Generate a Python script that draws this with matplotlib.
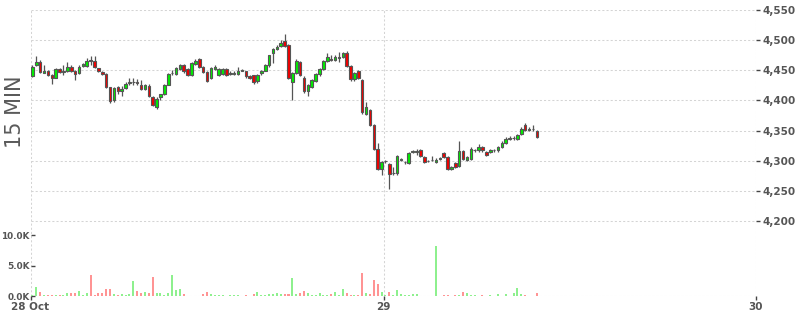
import numpy as np
import pandas as pd
import matplotlib
matplotlib.use('Agg')
import matplotlib.pyplot as plt
import matplotlib.dates as mdates
from matplotlib.ticker import FuncFormatter

# 15 minute candles, first bar opens 28 Oct 01:15
first_bar = '2021-10-28 01:15'

opens = [4440, 4458, 4464, 4446, 4449, 4442, 4438, 4452, 4447, 4448,
         4456, 4448, 4445, 4457, 4457, 4467, 4466, 4453, 4447, 4444,
         4422, 4401, 4422, 4415, 4421, 4429, 4430, 4430, 4426, 4419,
         4424, 4406, 4389, 4406, 4410, 4426, 4445, 4444, 4452, 4458,
         4452, 4442, 4460, 4468, 4455, 4447, 4438, 4452, 4443, 4444,
         4452, 4444, 4444, 4444, 4449, 4448, 4440, 4442, 4432, 4445,
         4449, 4459, 4479, 4485, 4491, 4498, 4492, 4431, 4446, 4464,
         4438, 4415, 4422, 4433, 4444, 4452, 4465, 4469, 4467, 4471,
         4472, 4479, 4457, 4435, 4448, 4434, 4378, 4384, 4359, 4320,
         4286, 4299, 4295, 4279, 4279, 4302, 4298, 4297, 4315, 4315,
         4317, 4306, 4300, 4301, 4298, 4303, 4312, 4306, 4287, 4296,
         4292, 4316, 4301, 4303, 4317, 4317, 4323, 4314, 4314, 4317,
         4317, 4323, 4330, 4336, 4337, 4336, 4344, 4360, 4351, 4352,
         4349]

highs = [4459, 4473, 4467, 4458, 4451, 4444, 4454, 4454, 4458, 4464,
         4458, 4450, 4459, 4462, 4470, 4473, 4473, 4454, 4448, 4446,
         4423, 4422, 4424, 4424, 4430, 4437, 4438, 4436, 4434, 4428,
         4427, 4408, 4405, 4411, 4427, 4445, 4450, 4455, 4460, 4460,
         4453, 4463, 4468, 4471, 4457, 4448, 4455, 4458, 4454, 4454,
         4454, 4448, 4449, 4455, 4452, 4449, 4442, 4443, 4444, 4450,
         4460, 4476, 4487, 4492, 4501, 4510, 4494, 4447, 4468, 4466,
         4440, 4427, 4436, 4446, 4454, 4467, 4478, 4476, 4476, 4480,
         4481, 4482, 4459, 4447, 4450, 4435, 4397, 4386, 4361, 4330,
         4300, 4301, 4297, 4290, 4309, 4305, 4300, 4314, 4318, 4320,
         4320, 4308, 4302, 4307, 4304, 4306, 4315, 4308, 4292, 4298,
         4332, 4318, 4308, 4322, 4320, 4328, 4325, 4316, 4320, 4320,
         4325, 4332, 4340, 4341, 4341, 4345, 4356, 4362, 4356, 4359,
         4351]

lows = [4439, 4457, 4445, 4445, 4440, 4428, 4437, 4445, 4443, 4447,
        4447, 4434, 4444, 4456, 4455, 4458, 4454, 4447, 4442, 4421,
        4396, 4398, 4410, 4407, 4419, 4426, 4425, 4426, 4418, 4417,
        4406, 4390, 4386, 4401, 4409, 4425, 4443, 4442, 4450, 4446,
        4440, 4441, 4459, 4454, 4445, 4431, 4436, 4450, 4441, 4442,
        4440, 4442, 4443, 4443, 4448, 4438, 4436, 4428, 4429, 4443,
        4448, 4455, 4462, 4483, 4489, 4489, 4436, 4400, 4444, 4440,
        4413, 4407, 4420, 4431, 4440, 4450, 4463, 4465, 4465, 4464,
        4470, 4455, 4433, 4433, 4436, 4378, 4376, 4357, 4318, 4284,
        4276, 4297, 4253, 4277, 4277, 4300, 4295, 4294, 4313, 4309,
        4306, 4296, 4298, 4299, 4296, 4301, 4304, 4285, 4285, 4288,
        4290, 4301, 4299, 4301, 4314, 4315, 4315, 4307, 4312, 4315,
        4315, 4321, 4328, 4334, 4334, 4334, 4342, 4349, 4349, 4349,
        4338]

closes = [4456, 4464, 4447, 4448, 4442, 4438, 4452, 4447, 4448, 4456,
          4448, 4444, 4456, 4460, 4466, 4466, 4455, 4448, 4444, 4422,
          4399, 4421, 4415, 4419, 4428, 4430, 4430, 4429, 4419, 4426,
          4408, 4393, 4403, 4410, 4426, 4444, 4446, 4453, 4458, 4448,
          4442, 4462, 4466, 4455, 4447, 4433, 4453, 4455, 4452, 4452,
          4442, 4446, 4446, 4449, 4450, 4440, 4438, 4431, 4443, 4448,
          4458, 4475, 4485, 4488, 4496, 4491, 4438, 4445, 4466, 4442,
          4415, 4425, 4434, 4444, 4452, 4465, 4472, 4467, 4472, 4472,
          4479, 4457, 4435, 4445, 4438, 4380, 4389, 4359, 4320, 4286,
          4298, 4299, 4278, 4280, 4307, 4303, 4298, 4312, 4316, 4316,
          4308, 4298, 4300, 4302, 4302, 4304, 4306, 4287, 4290, 4290,
          4316, 4303, 4306, 4320, 4317, 4322, 4317, 4309, 4318, 4317,
          4323, 4330, 4336, 4337, 4337, 4343, 4353, 4351, 4353, 4352,
          4340]

volumes = [200, 1540, 660, 220, 220, 220, 220, 100, 220, 440,
           550, 550, 770, 220, 550, 3520, 220, 550, 550, 1210,
           1100, 330, 220, 330, 220, 330, 2530, 880, 550, 660,
           550, 3190, 550, 550, 220, 550, 3410, 990, 1210, 330,
           50, 60, 50, 60, 330, 660, 330, 100, 220, 110,
           60, 150, 150, 150, 60, 110, 80, 330, 660, 110,
           110, 330, 330, 440, 330, 330, 330, 2970, 330, 550,
           880, 550, 110, 110, 550, 110, 110, 330, 660, 110,
           1210, 550, 220, 110, 110, 3850, 550, 330, 2640, 1980,
           660, 220, 660, 220, 990, 330, 220, 110, 330, 330,
           60, 60, 60, 60, 8140, 60, 110, 110, 40, 110,
           110, 660, 440, 110, 110, 60, 110, 60, 110, 60,
           330, 60, 330, 60, 550, 1320, 330, 110, 60, 60,
           440]

day_ticks = ['2021-10-29', '2021-10-30']
day_labels = ['28 Oct', '29', '30']
price_ticks = [4200, 4250, 4300, 4350, 4400, 4450, 4500, 4550]
volume_ticks = [0, 5000, 10000]


def create_candle_chart(output_path='out.png'):
    """
    Draws the 15 minute candlestick chart with the volume panel underneath
    """
    df = pd.DataFrame({'open': opens, 'high': highs, 'low': lows,
                       'close': closes, 'volume': volumes})
    bar_len = pd.Timedelta(minutes=15)
    times = pd.date_range(first_bar, periods=len(df), freq='15min') + bar_len / 2
    x = mdates.date2num(times)
    bar_w = 1 / 96  # one 15 min slot in days

    up = df['close'] >= df['open']
    body_colors = np.where(up, '#00f000', '#f20000')
    vol_colors = np.where(up, '#8ef08e', '#ff9494')

    fig = plt.figure(figsize=(8, 3.15), dpi=100)
    left, width = 30.5 / 800, 725.5 / 800
    ax = fig.add_axes([left, 19 / 315, width, 286 / 315])
    axv = fig.add_axes([left, 19 / 315, width, 75 / 315])
    axv.set_facecolor('none')

    grid_style = dict(color='#d4d4d4', linestyle=(0, (2, 2)), linewidth=0.75)

    # Candles: wicks first, then bodies
    ax.vlines(x, df['low'], df['high'], color='#555555', linewidth=0.9, zorder=2)
    ax.bar(x, (df['close'] - df['open']).abs(), width=bar_w * 0.66,
           bottom=df[['open', 'close']].min(axis=1), color=body_colors,
           edgecolor='#555555', linewidth=0.8, zorder=3)

    # Volume bars
    axv.bar(x, df['volume'], width=bar_w * 0.52, color=vol_colors, zorder=2)
    axv.axhline(0, **grid_style, zorder=1)

    x0 = mdates.date2num(pd.Timestamp(first_bar))
    x1 = mdates.date2num(pd.Timestamp(day_ticks[-1]))
    for a in (ax, axv):
        a.set_xlim(x0, x1)
        for s in a.spines.values():
            s.set_visible(False)

    # price axis on the right
    ax.set_ylim(4550 - 286 * 350 / 211, 4550)
    ax.yaxis.tick_right()
    ax.set_yticks(price_ticks)
    ax.yaxis.set_major_formatter(FuncFormatter(lambda v, p: f'{v:,.0f}'))
    ax.set_xticks([x0] + [mdates.date2num(pd.Timestamp(d)) for d in day_ticks])
    ax.set_xticklabels(day_labels)
    ax.tick_params(axis='y', direction='out', length=3, width=1, color='#444444',
                   labelsize=7.5, labelcolor='#555555', pad=2)
    ax.tick_params(axis='x', direction='out', length=3, width=1, color='#444444',
                   labelsize=7.5, labelcolor='#555555', pad=1.5)
    for lbl in ax.get_yticklabels() + ax.get_xticklabels():
        lbl.set_fontweight('bold')
    ax.grid(True, **grid_style)
    ax.set_axisbelow(True)

    # volume axis on the left
    axv.set_ylim(0, 12300)
    axv.set_yticks(volume_ticks)
    axv.yaxis.set_major_formatter(FuncFormatter(lambda v, p: f'{v / 1000:.1f}K'))
    axv.tick_params(axis='y', direction='in', length=3, width=1, color='#444444',
                    labelsize=6.4, labelcolor='#555555', pad=0.6)
    axv.tick_params(axis='x', length=0, labelbottom=False)
    for lbl in axv.get_yticklabels():
        lbl.set_fontweight('bold')

    fig.text(15 / 800, 1 - 112 / 315, '15 MIN', rotation=90, ha='center',
             va='center', fontsize=15, color='#5a5a5a')

    fig.savefig(output_path, dpi=100)
    plt.close(fig)
    return output_path


if __name__ == '__main__':
    create_candle_chart('out.png')
